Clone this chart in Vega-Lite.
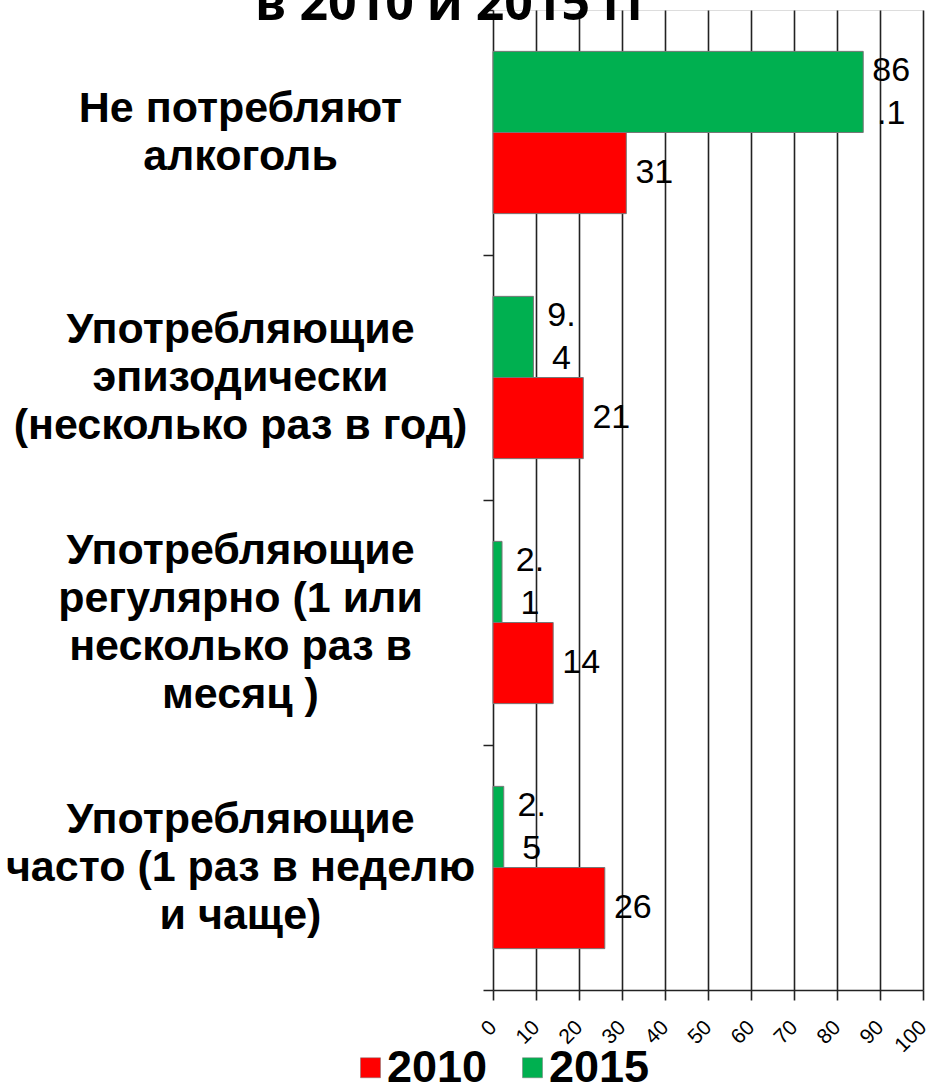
{
  "$schema": "https://vega.github.io/schema/vega-lite/v6.json",
  "width": 430,
  "height": 980,
  "autosize": {"type": "none"},
  "padding": {"left": 493, "top": 10, "right": 7, "bottom": 101},
  "background": "white",
  "title": {
    "text": "в 2010 и 2015 гг",
    "font": "Open Sans",
    "fontSize": 50,
    "fontWeight": "bold",
    "color": "black",
    "anchor": "start",
    "frame": "group",
    "dx": -238,
    "dy": 81,
    "offset": 0,
    "baseline": "alphabetic"
  },
  "data": {
    "values": [
      {"category": "Не потребляют|алкоголь", "year": "2015", "value": 86.1, "label": "86|.1"},
      {"category": "Не потребляют|алкоголь", "year": "2010", "value": 31, "label": "31"},
      {"category": "Употребляющие|эпизодически|(несколько раз в год)", "year": "2015", "value": 9.4, "label": "9.|4"},
      {"category": "Употребляющие|эпизодически|(несколько раз в год)", "year": "2010", "value": 21, "label": "21"},
      {"category": "Употребляющие|регулярно (1 или|несколько раз в|месяц )", "year": "2015", "value": 2.1, "label": "2.|1"},
      {"category": "Употребляющие|регулярно (1 или|несколько раз в|месяц )", "year": "2010", "value": 14, "label": "14"},
      {"category": "Употребляющие|часто (1 раз в неделю|и чаще)", "year": "2015", "value": 2.5, "label": "2.|5"},
      {"category": "Употребляющие|часто (1 раз в неделю|и чаще)", "year": "2010", "value": 26, "label": "26"}
    ]
  },
  "encoding": {
    "y": {
      "field": "category",
      "type": "nominal",
      "sort": null,
      "scale": {"paddingInner": 0, "paddingOuter": 0},
      "axis": {
        "title": null,
        "domain": false,
        "ticks": true,
        "tickBand": "extent",
        "tickSize": 10,
        "tickColor": "#222",
        "tickWidth": 1.5,
        "labelExpr": "split(datum.label, '|')",
        "labelAlign": "center",
        "labelBaseline": "middle",
        "labelPadding": 243,
        "labelOffset": {
          "condition": [
            {"test": "length(split(datum.value, '|')) == 4", "value": -72},
            {"test": "length(split(datum.value, '|')) == 3", "value": -48}
          ],
          "value": -24
        },
        "labelFont": "Liberation Sans",
        "labelFontSize": 43,
        "labelFontWeight": "bold",
        "labelColor": "black",
        "labelLineHeight": 48,
        "labelLimit": 1000,
        "labelOverlap": false,
        "grid": false
      }
    },
    "yOffset": {
      "field": "year",
      "type": "nominal",
      "scale": {"domain": ["2015", "2010"], "paddingInner": 0, "paddingOuter": 0.51}
    },
    "x": {
      "field": "value",
      "type": "quantitative",
      "scale": {"domain": [0, 100], "nice": false},
      "axis": {
        "title": null,
        "values": [0, 10, 20, 30, 40, 50, 60, 70, 80, 90, 100],
        "grid": true,
        "gridColor": "#222",
        "gridWidth": 1.6,
        "domain": true,
        "domainColor": "#222",
        "domainWidth": 1.6,
        "tickSize": 10,
        "tickColor": "#222",
        "tickWidth": 1.6,
        "labelAngle": -45,
        "labelAlign": "right",
        "labelBaseline": "middle",
        "labelPadding": 24,
        "labelFont": "Liberation Sans",
        "labelFontSize": 21,
        "labelColor": "black",
        "labelOverlap": false,
        "labelFlush": false
      }
    }
  },
  "layer": [
    {
      "mark": {"type": "bar", "stroke": "#777", "strokeWidth": 1},
      "encoding": {
        "color": {
          "field": "year",
          "type": "nominal",
          "scale": {"domain": ["2010", "2015"], "range": ["#FF0000", "#00B050"]},
          "legend": {
            "title": null,
            "orient": "none",
            "legendX": -145,
            "legendY": 1035,
            "direction": "horizontal",
            "symbolType": "square",
            "symbolSize": 400,
            "symbolStrokeWidth": 0.5,
            "labelFont": "Liberation Sans",
            "labelFontSize": 45,
            "labelFontWeight": "bold",
            "labelColor": "black",
            "labelOffset": -6,
            "columnPadding": 22,
            "padding": 0
          }
        }
      }
    },
    {
      "transform": [{"filter": "datum.year == '2010'"}],
      "mark": {
        "type": "text",
        "align": "center",
        "baseline": "middle",
        "dx": 28,
        "font": "Liberation Sans",
        "fontSize": 34,
        "color": "black"
      },
      "encoding": {"text": {"field": "label"}}
    },
    {
      "transform": [{"filter": "datum.year == '2015'"}],
      "mark": {
        "type": "text",
        "align": "center",
        "baseline": "middle",
        "dx": 28,
        "dy": -21,
        "font": "Liberation Sans",
        "fontSize": 34,
        "lineBreak": "|",
        "lineHeight": 43,
        "color": "black"
      },
      "encoding": {"text": {"field": "label"}}
    }
  ]
}
